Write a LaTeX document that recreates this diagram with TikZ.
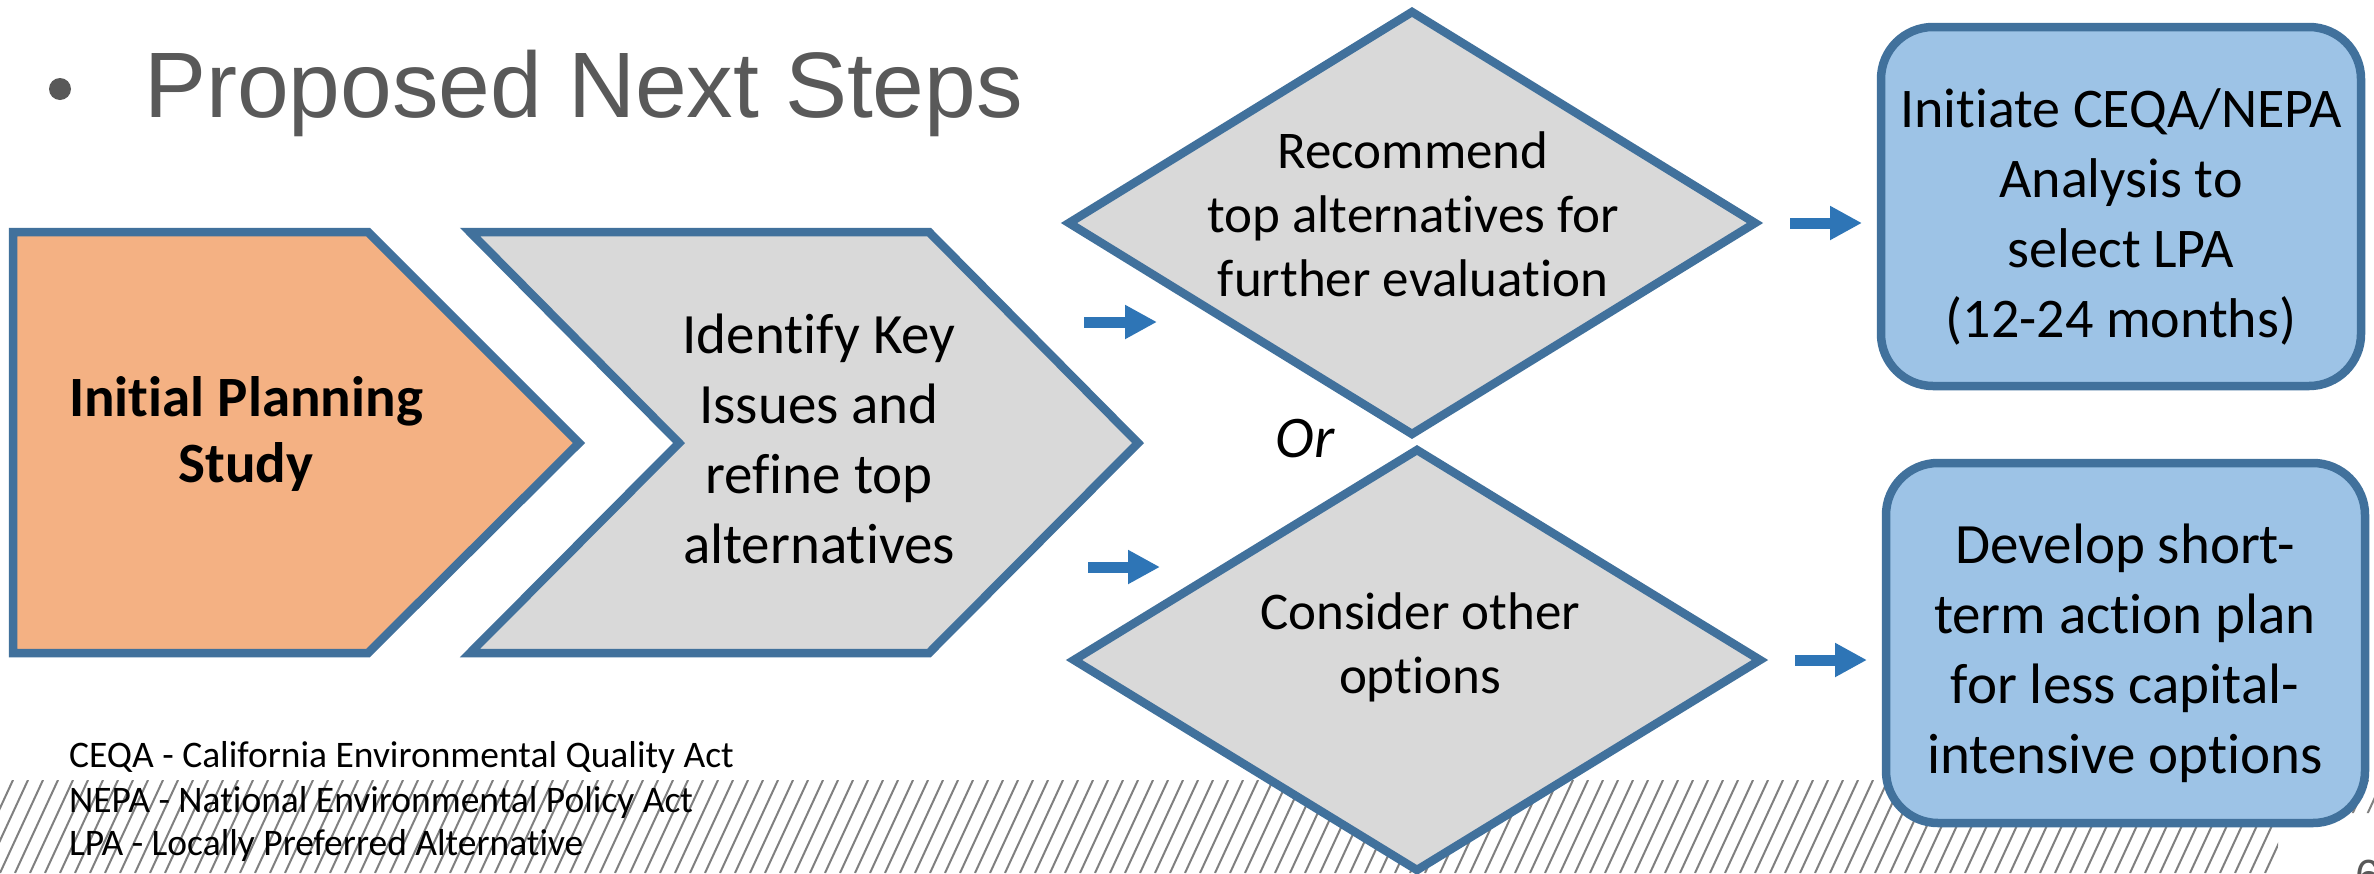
\documentclass[tikz,border=0pt]{standalone}
\usepackage{fontspec}
\setmainfont{Carlito}[Ligatures={NoCommon,NoContextual}]
\newfontfamily\arialfont{Liberation Sans}
\usetikzlibrary{arrows.meta}
\definecolor{edgeblue}{HTML}{41719C}
\definecolor{boxblue}{HTML}{9DC3E6}
\definecolor{shapegray}{HTML}{D9D9D9}
\definecolor{orangefill}{HTML}{F4B183}
\definecolor{arrowblue}{HTML}{2E75B6}
\definecolor{titlegray}{HTML}{595959}
\definecolor{hatchgray}{HTML}{808080}
\begin{document}
\begin{tikzpicture}[x=1pt,y=-1pt,
  shapeline/.style={draw=edgeblue, line width=8.5pt, line join=miter, miter limit=10},
  bluebox/.style={draw=edgeblue, fill=boxblue, line width=8.5pt, rounded corners=52pt},
  blockarrow/.style={draw=arrowblue, line width=11pt, -{Triangle[length=32pt,width=32pt]}},
  hatchline/.style={draw=hatchgray, line width=2pt},
  bigtext/.style={inner sep=0pt, align=center, font=\fontsize{57}{70}\selectfont},
  diamtext/.style={inner sep=0pt, align=center, font=\fontsize{53}{64}\selectfont},
  legend/.style={inner sep=0pt, anchor=base west, font=\fontsize{37.5}{43}\selectfont}
]
\useasboundingbox (0,0) rectangle (2374,873);
\clip (0,0) rectangle (2374,873);
\fill[white] (0,0) rectangle (2374,873);

% hatched band
\begin{scope}
  \clip (0,780) -- (2374,780) -- (2374,813) -- (2278,813) -- (2278,873) -- (0,873) -- cycle;
  \foreach \i in {-60,-45,...,2400} \draw[hatchline] (\i,873) -- ++(43,-93);
\end{scope}

% title
\fill[titlegray] (60,89) circle (11pt);
\node[anchor=base west, inner sep=0pt, font=\arialfont\fontsize{93}{110}\selectfont, text=titlegray] (title) at (144,117) {Proposed Next Steps};

% page number (partly visible)
\node[anchor=north west, inner sep=0pt, font=\arialfont\fontsize{45}{50}\selectfont, text=titlegray] (pagenum) at (2355,860) {6};

% shapes
\draw[shapeline, fill=orangefill] (13,232) -- (368,232) -- (579,443) -- (368,653) -- (13,653) -- cycle;
\draw[shapeline, fill=shapegray] (470,232) -- (929,232) -- (1138,443) -- (929,653) -- (470,653) -- (679,443) -- cycle;
\draw[shapeline, fill=shapegray] (1412,12) -- (1755,223) -- (1412,434) -- (1069,223) -- cycle;
\draw[shapeline, fill=shapegray] (1417,450) -- (1760,660) -- (1417,870) -- (1074,660) -- cycle;
\draw[bluebox] (1881,27) rectangle (2361,386);
\draw[bluebox] (1886,463) rectangle (2365,823);

% texts
\node[bigtext, font=\bfseries\fontsize{57}{66}\selectfont] (ips) at (246,434) {Initial Planning\\Study};
\node[bigtext] (ident) at (819,439) {Identify Key\\Issues and\\refine top\\alternatives};
\node[diamtext] (recom) at (1413,214) {Recommend\\top alternatives for\\further evaluation};
\node[diamtext] (consid) at (1420,647) {Consider other\\options};
\node[anchor=base, inner sep=0pt, font=\itshape\fontsize{59}{70}\selectfont] (ortext) at (1305,457) {Or};
\node[bigtext, font=\fontsize{56}{70}\selectfont] (ceqa) at (2121,217) {Initiate CEQA/NEPA\\Analysis to\\select LPA\\(12-24 months)};
\node[bigtext] (short) at (2125,653) {Develop short-\\term action plan\\for less capital-\\intensive options};

% arrows
\coordinate (a1s) at (1084,322); \coordinate (a1e) at (1157,322);
\coordinate (a2s) at (1088,567); \coordinate (a2e) at (1160,567);
\coordinate (a3s) at (1790,223); \coordinate (a3e) at (1862,223);
\coordinate (a4s) at (1795,660); \coordinate (a4e) at (1867,660);
\draw[blockarrow] (a1s) -- (a1e);
\draw[blockarrow] (a2s) -- (a2e);
\draw[blockarrow] (a3s) -- (a3e);
\draw[blockarrow] (a4s) -- (a4e);

% legend
\node[legend] (leg1) at (69,767) {CEQA - California Environmental Quality Act};
\node[legend] (leg2) at (69,812) {NEPA - National Environmental Policy Act};
\node[legend] (leg3) at (69,855) {LPA - Locally Preferred Alternative};
\end{tikzpicture}
\end{document}
